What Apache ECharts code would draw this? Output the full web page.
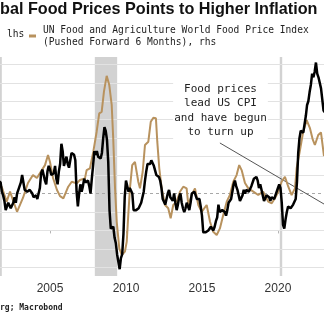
<!DOCTYPE html>
<html><head><meta charset="utf-8">
<script src="https://cdn.jsdelivr.net/npm/echarts@6/dist/echarts.min.js"></script>
<style>html,body{margin:0;padding:0;background:#fff}#c{width:324px;height:328px}</style>
</head><body><div id="c"></div>
<script>
// US CPI YoY (%), monthly, starting Jul 2001 (lhs)
const cpiStartYear = 2001, cpiStartMonth = 7;
const cpiValues = [
 2.7,2.7,2.6,2.1,1.9,1.6,
 1.1,1.1,1.5,1.6,1.2,1.1,1.5,1.8,1.5,2.0,2.2,2.4,
 2.6,3.0,3.0,2.2,2.1,2.1,2.1,2.2,2.3,2.0,1.8,1.9,
 1.9,1.7,1.7,2.3,3.1,3.3,3.0,2.7,2.5,3.2,3.5,3.3,
 3.0,3.0,3.1,3.5,2.8,2.5,3.2,3.6,4.7,4.3,3.5,3.4,
 4.0,3.6,3.4,3.5,4.2,4.3,4.1,3.8,2.1,1.3,2.0,2.5,
 2.1,2.4,2.8,2.6,2.7,2.7,2.4,2.0,2.8,3.5,4.3,4.1,
 4.3,4.0,4.0,3.9,4.2,5.0,5.6,5.4,4.9,3.7,1.1,0.1,
 0.0,0.2,-0.4,-0.7,-1.3,-1.4,-2.1,-1.5,-1.3,-0.2,1.8,2.7,
 2.6,2.1,2.3,2.2,2.0,1.1,1.2,1.1,1.1,1.2,1.1,1.5,
 1.6,2.1,2.7,3.2,3.6,3.6,3.6,3.8,3.9,3.5,3.4,3.0,
 2.9,2.9,2.7,2.3,1.7,1.7,1.4,1.7,2.0,2.2,1.8,1.7,
 1.6,2.0,1.5,1.1,1.4,1.8,2.0,1.5,1.2,1.0,1.2,1.5,
 1.6,1.1,1.5,2.0,2.1,2.1,2.0,1.7,1.7,1.7,1.3,0.8,
 -0.1,0.0,-0.1,-0.2,0.0,0.1,0.2,0.2,0.0,0.2,0.5,0.7,
 1.4,1.0,0.9,1.1,1.0,1.0,0.8,1.1,1.5,1.6,1.7,2.1,
 2.5,2.7,2.4,2.2,1.9,1.6,1.7,1.9,2.2,2.0,2.2,2.1,
 2.1,2.2,2.4,2.5,2.8,2.9,2.9,2.7,2.3,2.5,2.2,1.9,
 1.6,1.5,1.9,2.0,1.8,1.6,1.8,1.7,1.7,1.8,2.1,2.3,
 2.5,2.3,1.5,0.3,0.1,0.6,1.0,1.3,1.4,1.2,1.2,1.4,
 1.4,1.7,2.6,4.2,5.0,5.4,5.4,5.3,5.4,6.2,6.8,7.0,
 7.5,7.9,8.5,8.3,8.6,9.1,8.5,8.3,8.2,7.7,7.1,6.5,
 6.4
];

// UN FAO World Food Price Index, YoY % pushed forward 6 months (rhs) - dates as decimal years
const foodDates = [
 2001.65,2001.82,2002.15,2002.37,2002.83,2003.22,2003.55,2003.88,2004.14,2004.34,
 2004.67,2004.87,2005.00,2005.20,2005.46,2005.66,2005.88,2006.20,2006.43,2006.76,
 2006.97,2007.30,2007.41,2007.63,2007.85,2008.07,2008.24,2008.40,2008.55,2008.73,
 2008.90,2009.06,2009.16,2009.28,2009.39,2009.56,2009.72,2009.82,2009.93,2010.05,
 2010.15,2010.26,2010.41,2010.59,2010.81,2010.92,2011.10,2011.25,2011.47,2011.63,
 2011.80,2011.97,2012.06,2012.19,2012.35,2012.57,2012.78,2012.94,2013.11,2013.34,
 2013.55,2013.77,2013.99,2014.10,2014.32,2014.54,2014.76,2014.98,2015.31,2015.53,
 2015.74,2015.97,2016.18,2016.40,2016.63,2016.84,2017.06,2017.28,2017.45,2017.61,
 2017.83,2018.05,2018.38,2018.70,2019.03,2019.36,2019.59,2019.80,2020.02,2020.24,
 2020.46,2020.68,2020.90,2021.12,2021.23,2021.45,2021.66,2021.89,2022.11,2022.28,
 2022.43,2022.65,2022.83,2023.03
];
const foodValues = [
 4.0,3.7,-4.4,1.0,-9.9,-2.4,5.7,10.0,8.4,11.1,
 15.4,20.9,17.1,8.4,1.9,-1.4,-2.6,3.7,6.4,5.5,
 7.3,8.2,12.7,13.7,22.7,33.5,43.5,44.3,55.2,63.8,
 58.8,48.0,29.9,2.8,-15.3,-29.7,-33.3,-33.3,-31.5,-26.1,
 -11.7,2.8,15.4,17.2,6.4,2.8,11.8,26.3,28.1,38.9,
 41.1,40.8,28.1,13.7,2.8,-6.2,-8.0,-13.4,-6.2,-4.4,
 1.0,3.7,2.8,-6.2,-0.8,2.8,-6.2,-9.9,-6.2,-15.3,
 -20.7,-22.5,-18.9,-11.7,-4.4,-0.8,6.4,10.0,15.4,12.7,
 5.7,2.8,1.0,-0.8,1.0,-4.4,-5.3,-2.6,1.0,6.4,
 9.1,3.7,-0.8,2.8,13.7,23.6,33.5,39.8,35.3,29.5,
 26.3,31.7,33.1,20.3
];

// Recessions (decimal years)
const recessions = [[2001.0, 2001.83], [2007.95, 2009.42], [2020.12, 2020.28]];
// x-axis tick labels
const yearTicks = [2005, 2010, 2015, 2020];
// lhs gridline values (%), dashed reference at 2
const cpiGridValues = [-2,-1,0,1,2,3,4,5,6,7,8,9];
const cpiDashed = 2;
// annotation arrow (data coordinates: year, CPI %)
const arrowStart = [2016.18, 4.74];
const arrowEnd = [2023.03, 1.43];

const titleText = 'bal Food Prices Points to Higher Inflation';
const foodName = 'UN Food and Agriculture World Food Price Index\n(Pushed Forward 6 Months), rhs';
const cpiName = 'US CPI YoY, lhs';
const noteText = 'Food prices\nlead US CPI\nand have begun\nto turn up';
const sourceText = 'rg; Macrobond';

const cpiData = cpiValues.map((v, i) => {
  const m = cpiStartMonth - 1 + i;
  return [cpiStartYear + Math.floor(m / 12) + ((m % 12) + 1) / 12, v];
});
const foodData = foodDates.map((d, i) => [d, foodValues[i]]);

const MONO = '"DejaVu Sans Mono", monospace';
const chart = echarts.init(document.getElementById('c'), null, {renderer: 'canvas'});
chart.setOption({
  animation: false,
  backgroundColor: '#fff',
  title: {
    text: titleText, left: 0, top: 2, padding: 0,
    textStyle: {fontFamily: '"Liberation Sans", Arial, sans-serif', fontWeight: 'bold', fontSize: 16.2, color: '#111'}
  },
  legend: {
    data: [foodName], left: 29, top: 24, padding: 0,
    icon: 'rect', itemWidth: 7, itemHeight: 3,
    textStyle: {fontFamily: MONO, fontSize: 9.6, lineHeight: 12, color: '#222', padding: [0,0,0,2]}
  },
  grid: {left: 0, right: 0, top: 57, bottom: 52, containLabel: false},
  xAxis: {
    type: 'value', min: 2001.71, max: 2023.03,
    axisLine: {show: true, lineStyle: {color: '#b5b5b5', width: 1}},
    axisTick: {show: true, length: 3, customValues: yearTicks, lineStyle: {color: '#b5b5b5'}},
    axisLabel: {customValues: yearTicks, formatter: v => String(v), margin: 7,
      fontFamily: '"Liberation Sans", Arial, sans-serif', fontSize: 12, color: '#333'},
    splitLine: {show: false}
  },
  yAxis: [
    {type: 'value', min: -2.47, max: 9.4, show: false, splitLine: {show: false}},
    {type: 'value', min: -44.7, max: 74.0, show: false, splitLine: {show: false}}
  ],
  graphic: [
    {type: 'text', left: 7, top: 29.5, style: {text: 'lhs', font: '9.6px ' + MONO, fill: '#222'}},
    {type: 'text', x: 220.5, y: 81.5, z: 10, style: {text: noteText, font: '11px ' + MONO, fill: '#222',
      align: 'center', verticalAlign: 'top', lineHeight: 14.5, backgroundColor: '#fff', padding: [0, 1]}},
    {type: 'text', left: 0, top: 304, style: {text: sourceText, font: 'bold 8px ' + MONO, fill: '#222'}}
  ],
  series: [
    {
      name: foodName, type: 'line', yAxisIndex: 1, data: foodData,
      showSymbol: false, symbol: 'none', smooth: false,
      lineStyle: {color: '#b8925e', width: 2}, itemStyle: {color: '#b8925e'},
      markArea: {
        silent: true, z: 0,
        itemStyle: {color: '#d2d2d2'},
        data: recessions.map(r => [{xAxis: r[0]}, {xAxis: r[1]}])
      },
      z: 2
    },
    {
      name: cpiName, type: 'line', yAxisIndex: 0, data: cpiData,
      showSymbol: false, symbol: 'none',
      lineStyle: {color: '#000', width: 2.5}, itemStyle: {color: '#000'},
      markLine: {
        silent: true, z: 1, symbol: ['none', 'none'], label: {show: false},
        data: cpiGridValues.map(v => ({
          yAxis: v,
          lineStyle: v === cpiDashed ? {color: '#a8a8a8', width: 1, type: [3, 3]} : {color: '#e2e2e2', width: 1, type: 'solid'}
        })).concat([[
          {coord: arrowStart, lineStyle: {color: '#555', width: 1, type: 'solid'}},
          {coord: arrowEnd}
        ]])
      },
      z: 3
    }
  ]
});
</script></body></html>
